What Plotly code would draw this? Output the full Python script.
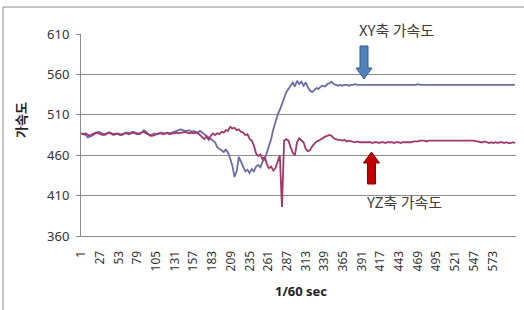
import plotly.graph_objects as go

# sample numbers (1/60 s) at which values were read, every 3rd sample
sample_idx = list(range(1, 606, 3))

xy_accel = [
    # 1..145
    487,486,485,482,483,484,486,488,489,488,486,485,487,488,486,485,486,487,486,485,
    487,488,487,488,489,488,487,486,488,491,489,486,485,486,487,486,487,488,487,487,
    488,487,488,489,490,491,492,491,490,
    # 148..283
    490,491,489,490,489,488,490,488,487,484,482,480,478,476,470,468,466,464,467,463,
    456,447,433,440,458,452,448,440,442,438,443,440,446,448,445,452,455,463,470,480,
    492,502,510,516,523,530,
    # 286..400
    538,542,546,550,545,552,548,551,546,550,544,540,538,541,543,542,545,546,545,548,
    549,551,548,547,546,547,546,547,547,546,547,547,548,547,547,547,547,547,547,
    # 403..604
    547,547,547,547,547,547,547,547,547,547,547,547,547,547,547,547,547,547,547,547,
    547,547,548,547,547,547,547,547,547,547,547,547,547,547,547,547,547,547,547,547,
    547,547,547,547,547,547,547,547,547,547,547,547,547,547,547,547,547,547,547,547,
    547,547,547,547,547,547,547,547,
]

yz_accel = [
    # 1..145
    487,486,487,485,484,486,487,488,487,486,485,486,487,488,487,486,487,486,485,486,
    487,487,486,487,488,487,486,487,488,489,487,486,484,484,485,486,487,487,486,487,
    487,486,487,487,488,487,488,488,489,
    # 148..283
    488,487,488,487,488,487,485,482,480,483,479,484,487,485,487,486,489,488,491,490,
    495,493,494,491,492,489,488,485,486,480,478,472,462,459,461,455,458,449,444,446,
    441,444,452,460,396,478,
    # 286..400
    480,478,470,463,460,476,481,479,476,468,465,466,471,474,477,478,480,481,483,484,
    485,484,481,480,479,479,478,479,477,478,477,477,476,477,476,476,476,476,476,
    # 403..604
    476,475,476,476,475,476,476,475,476,476,476,475,476,476,475,476,476,476,476,476,
    477,477,
    477,478,478,478,477,478,478,478,478,478,478,478,478,478,478,478,478,478,478,478,
    478,478,478,478,478,478,478,477,
    477,476,476,477,476,475,476,475,476,475,476,476,475,476,475,475,476,475,
]

y_ticks = [360, 410, 460, 510, 560, 610]
x_tick_vals = list(range(1, 574, 26))
x_tick_text = [str(v) for v in x_tick_vals]

series_names = ["XY축 가속도", "YZ축 가속도"]
series_colors = ["#6C6CAA", "#A2386A"]

W, H = 524, 310
ML, MR, MT, MB = 81, 8, 34, 74
PW, PH = W - ML - MR, H - MT - MB


def px(xp):
    return (xp - ML) / PW


def py(yp):
    return (H - MB - yp) / PH


fig = go.Figure()
for name, vals, col in zip(series_names, [xy_accel, yz_accel], series_colors):
    fig.add_trace(go.Scatter(x=sample_idx, y=vals, mode="lines", name=name,
                             line=dict(color=col, width=1.8), showlegend=False))

tick_font = dict(family="Noto Sans, DejaVu Sans, sans-serif", size=13, color="#333333")

fig.update_layout(
    width=W, height=H,
    margin=dict(l=ML, r=MR, t=MT, b=MB, autoexpand=False),
    paper_bgcolor="white", plot_bgcolor="white",
    xaxis=dict(range=[0.5, 605.5], tickmode="array", tickvals=x_tick_vals,
               ticktext=x_tick_text, tickangle=-90, tickfont=dict(tick_font, size=12),
               showgrid=False, zeroline=False, showline=True, linecolor="#8c8c8c",
               linewidth=1, ticks="", ticklabelstandoff=9, automargin=False),
    yaxis=dict(range=[360, 610], tickmode="array", tickvals=y_ticks,
               tickfont=tick_font, showgrid=True, gridcolor="#8c8c8c", gridwidth=1,
               zeroline=False, showline=True, linecolor="#8c8c8c", linewidth=1,
               ticks="outside", ticklen=4, tickcolor="#8c8c8c", ticklabelstandoff=4,
               automargin=False),
)

# chart border
fig.add_shape(type="rect", xref="paper", yref="paper",
              x0=px(3), x1=px(540), y0=py(7), y1=py(330),
              line=dict(color="#8c8c8c", width=1), fillcolor="rgba(0,0,0,0)", layer="below")


def label(text, xp, yp, size, color, family, angle=0):
    fig.add_annotation(text=text, xref="paper", yref="paper", x=px(xp), y=py(yp),
                       xanchor="center", yanchor="middle", textangle=angle,
                       showarrow=False, font=dict(family=family, size=size, color=color))


# axis titles
label("<b>가속도</b>", 20, 120, 13, "#222222", "Noto Sans CJK KR", -90)
label("<b>1/60 sec</b>", 301, 291, 13, "#222222", "Noto Sans, DejaVu Sans")

# series labels
label(series_names[0], 396, 30, 15, "#404040", "Noto Sans CJK KR")
label(series_names[1], 404, 201, 15, "#404040", "Noto Sans CJK KR")


# block arrows (pixel-placed decorations)
def arrow_path(cx, y_tail, y_neck, y_tip, half_shaft, half_head):
    pts = [(cx - half_shaft, y_tail), (cx + half_shaft, y_tail), (cx + half_shaft, y_neck),
           (cx + half_head, y_neck), (cx, y_tip), (cx - half_head, y_neck),
           (cx - half_shaft, y_neck)]
    return "M " + " L ".join(f"{px(a):.4f},{py(b):.4f}" for a, b in pts) + " Z"


fig.add_shape(type="path", xref="paper", yref="paper",
              path=arrow_path(364, 46, 68, 79, 4, 8),
              fillcolor="#4F81BD", line=dict(color="#385D8A", width=1))
fig.add_shape(type="path", xref="paper", yref="paper",
              path=arrow_path(371.5, 184, 163, 152, 4, 8),
              fillcolor="#C00000", line=dict(color="#8C0000", width=1))

fig.write_html("out.html", config={"displayModeBar": False},
               post_script="document.body.style.margin='0';document.body.style.overflow='hidden';")
